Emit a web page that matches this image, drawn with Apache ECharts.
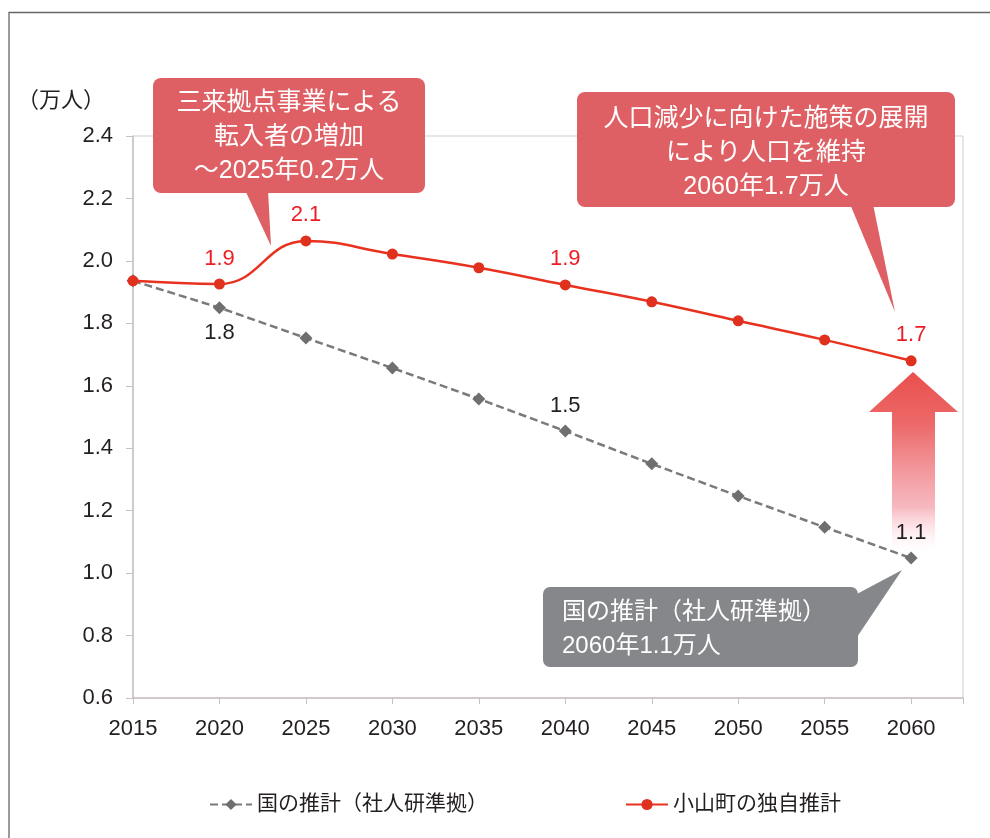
<!DOCTYPE html>
<html><head><meta charset="utf-8">
<script src="https://cdn.jsdelivr.net/npm/echarts@6/dist/echarts.min.js"></script>
<style>html,body{margin:0;padding:0;background:#fff}#c{width:990px;height:838px}</style>
</head><body><div id="c"></div>
<script>
const years = [2015, 2020, 2025, 2030, 2035, 2040, 2045, 2050, 2055, 2060];
const nationalValues = [1.936, 1.85, 1.753, 1.657, 1.558, 1.455, 1.35, 1.247, 1.147, 1.048];
const oyamaValues = [1.936, 1.926, 2.064, 2.022, 1.978, 1.923, 1.869, 1.808, 1.747, 1.68];
const nationalLabels = ['', '1.8', '', '', '', '1.5', '', '', '', '1.1'];
const nationalLabelPos = ['top', 'bottom', 'top', 'top', 'top', 'top', 'top', 'top', 'top', 'top'];
const oyamaLabels = ['', '1.9', '2.1', '', '', '1.9', '', '', '', '1.7'];
const seriesNames = ['国の推計（社人研準拠）', '小山町の独自推計'];
const yTicks = {min: 0.6, max: 2.4, interval: 0.2};
const callout1 = '三来拠点事業による\n転入者の増加\n～2025年0.2万人';
const callout2 = '人口減少に向けた施策の展開\nにより人口を維持\n2060年1.7万人';
const callout3 = '国の推計（社人研準拠）\n2060年1.1万人';

const FONT = '"Liberation Sans", "Noto Sans CJK JP", sans-serif';
const chart = echarts.init(document.getElementById('c'));

function build(vals, labels, posArr) {
  return years.map((y, i) => ({
    value: [y, vals[i]],
    label: {show: labels[i] !== '', formatter: labels[i], position: posArr ? posArr[i] : 'top'}
  }));
}

const redBox = '#df6064';
const grayBox = '#86878a';

chart.setOption({
  animation: false,
  backgroundColor: '#fff',
  textStyle: {fontFamily: FONT},
  grid: {left: 133, top: 136, right: 27, bottom: 140, show: true, borderColor: '#cfcfcf', borderWidth: 1},
  xAxis: {
    type: 'value', min: 2015, max: 2063, interval: 5,
    axisLine: {lineStyle: {color: '#c9c1c1', width: 1.5}},
    axisTick: {show: true, length: 6, lineStyle: {color: '#c9c1c1'}},
    splitLine: {show: false},
    axisLabel: {fontSize: 22, color: '#231f20', margin: 20, fontFamily: FONT,
      formatter: v => ((v - 2015) % 5 === 0 ? String(v) : '')}
  },
  yAxis: {
    type: 'value', min: yTicks.min, max: yTicks.max, interval: yTicks.interval,
    name: '（万人）', nameLocation: 'end', nameGap: 24,
    nameTextStyle: {fontSize: 22, color: '#231f20', align: 'right', padding: [0, 28, 0, 0], fontFamily: FONT},
    axisLine: {show: true, lineStyle: {color: '#c9c1c1', width: 1.5}},
    axisTick: {show: true, length: 7, lineStyle: {color: '#c9c1c1'}},
    splitLine: {show: false},
    axisLabel: {fontSize: 22, color: '#231f20', margin: 20, fontFamily: FONT,
      formatter: v => v.toFixed(1)}
  },
  legend: {
    left: 204, top: 789, itemWidth: 42, itemHeight: 14, itemGap: 137,
    textStyle: {fontSize: 21, color: '#231f20', fontFamily: FONT},
    data: seriesNames
  },
  series: [
    {
      name: seriesNames[0], type: 'line', z: 3,
      symbol: 'diamond', symbolSize: 13,
      lineStyle: {color: '#7a7a7a', width: 2.5, type: [8, 4]},
      itemStyle: {color: '#6f6f6f'},
      label: {fontSize: 22, color: '#231f20', distance: 8, fontFamily: FONT},
      data: build(nationalValues, nationalLabels, nationalLabelPos)
    },
    {
      name: seriesNames[1], type: 'line', z: 4, smooth: 0.45,
      symbol: 'circle', symbolSize: 11,
      lineStyle: {color: '#e8321f', width: 2.5},
      itemStyle: {color: '#e0301e'},
      label: {fontSize: 22, color: '#ee1c25', distance: 9, fontFamily: FONT},
      data: build(oyamaValues, oyamaLabels)
    }
  ],
  graphic: [
    {type: 'rect', z: 0, shape: {x: 9, y: 12.5, width: 1000, height: 900},
     style: {fill: 'none', stroke: '#666', lineWidth: 1.3}, silent: true},
    // big arrow
    {type: 'polygon', z: 1,
     shape: {points: [[913, 372], [958, 412], [935, 412], [935, 552], [892, 552], [892, 412], [869, 412]]},
     style: {fill: new echarts.graphic.LinearGradient(0, 0, 0, 1, [
       {offset: 0, color: '#e9504d'},
       {offset: 0.3, color: '#ec6a6a'},
       {offset: 0.75, color: 'rgba(244,160,170,0.75)'},
       {offset: 1, color: 'rgba(255,230,235,0)'}
     ])}},
    // callout 1
    {type: 'polygon', z: 10, shape: {points: [[245, 190], [268, 190], [271, 246]]}, style: {fill: redBox}},
    {type: 'rect', z: 10, shape: {x: 153, y: 78, width: 272, height: 115, r: 8}, style: {fill: redBox}},
    {type: 'text', z: 11, x: 289, y: 137,
     style: {text: callout1, fill: '#fff', fontSize: 25, lineHeight: 34, align: 'center', verticalAlign: 'middle', fontFamily: FONT}},
    // callout 2
    {type: 'polygon', z: 10, shape: {points: [[850, 204], [873, 204], [895, 312]]}, style: {fill: redBox}},
    {type: 'rect', z: 10, shape: {x: 577, y: 92, width: 378, height: 115, r: 8}, style: {fill: redBox}},
    {type: 'text', z: 11, x: 766, y: 153,
     style: {text: callout2, fill: '#fff', fontSize: 25, lineHeight: 34, align: 'center', verticalAlign: 'middle', fontFamily: FONT}},
    // callout 3
    {type: 'polygon', z: 10, shape: {points: [[855, 595], [855, 640], [902, 570]]}, style: {fill: grayBox}},
    {type: 'rect', z: 10, shape: {x: 543, y: 587, width: 315, height: 80, r: 7}, style: {fill: grayBox}},
    {type: 'text', z: 11, x: 562, y: 629,
     style: {text: callout3, fill: '#fff', fontSize: 24, lineHeight: 34, align: 'left', verticalAlign: 'middle', fontFamily: FONT}}
  ]
});
</script>
</body></html>
